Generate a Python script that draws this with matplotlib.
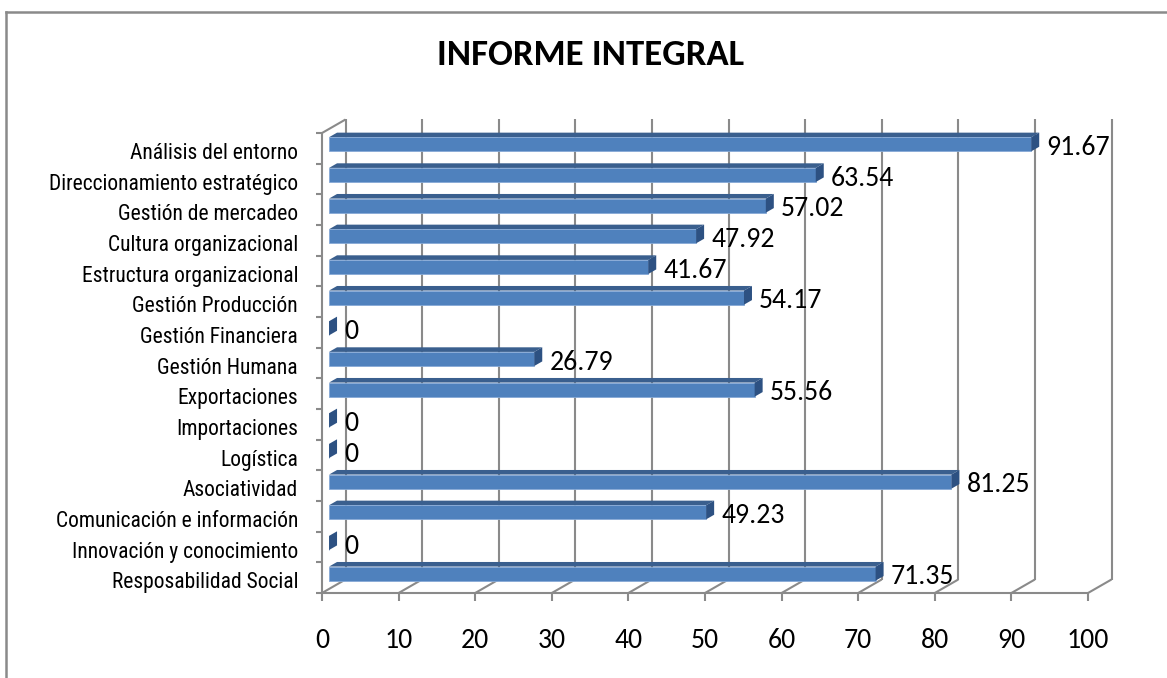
import matplotlib
matplotlib.use("Agg")
import matplotlib.pyplot as plt
from matplotlib.patches import Polygon
from matplotlib.lines import Line2D

categories = [
    "Análisis del entorno",
    "Direccionamiento estratégico",
    "Gestión de mercadeo",
    "Cultura organizacional",
    "Estructura organizacional",
    "Gestión Producción",
    "Gestión Financiera",
    "Gestión Humana",
    "Exportaciones",
    "Importaciones",
    "Logística",
    "Asociatividad",
    "Comunicación e información",
    "Innovación y conocimiento",
    "Resposabilidad Social",
]
values = [91.67, 63.54, 57.02, 47.92, 41.67, 54.17, 0, 26.79, 55.56, 0, 0, 81.25, 49.23, 0, 71.35]
x_ticks = list(range(0, 101, 10))
title = "INFORME INTEGRAL"

W, H = 1167, 678
GRID = "#8a8a8a"
FACE = "#4f81bd"
TOP = "#3a5f8e"
SIDE = "#2d5182"
NUM_FONT = ["Carlito", "Open Sans", "DejaVu Sans"]
CAT_FONT = ["Roboto Condensed", "Archivo Narrow", "Liberation Sans", "DejaVu Sans"]

fig = plt.figure(figsize=(W / 100, H / 100), dpi=100)
fig.patch.set_facecolor("white")

# outer chart border (only top and left visible in the crop)
fig.add_artist(Line2D([6 / W, 1.0], [1 - 12 / H, 1 - 12 / H], transform=fig.transFigure, color=GRID, lw=1.8))
fig.add_artist(Line2D([6 / W, 6 / W], [0, 1 - 12 / H], transform=fig.transFigure, color=GRID, lw=1.8))

fig.text(591 / W, 1 - 55 / H, title, ha="center", va="center", fontsize=26.5, fontweight="bold", family=NUM_FONT)

# front plane of the 3-D box
ax = fig.add_axes([322 / W, (H - 593) / H, 766 / W, 460 / H])
n = len(categories)
ax.set_xlim(0, 100)
ax.set_ylim(n - 0.5, -0.5)
ax.axis("off")

px_x = 766 / 100
px_y = 460 / n
DX = 23.5 / px_x      # depth offset in data units
DY = -13.5 / px_y
bottom, top = n - 0.5, -0.5

kw = dict(color=GRID, lw=1.5, clip_on=False, solid_capstyle="butt")
# back wall gridlines
for t in x_ticks:
    ax.plot([t + DX, t + DX], [bottom + DY, top + DY], zorder=1, **kw)
# floor
ax.plot([0, 100], [bottom, bottom], zorder=1, **kw)
for t in x_ticks:
    ax.plot([t, t + DX], [bottom, bottom + DY], zorder=1, **kw)
    ax.plot([t, t], [bottom, bottom + 8 / px_y], zorder=1, **kw)
    ax.text(t, bottom + 48 / px_y, str(t), ha="center", va="center", fontsize=20, family=NUM_FONT)
# left wall
ax.plot([0, 0], [bottom, top], zorder=1, **kw)
ax.plot([0, DX], [top, top + DY], zorder=1, **kw)
for k in range(n + 1):
    ax.plot([-6 / px_x, 0], [k - 0.5, k - 0.5], zorder=1, **kw)

# bars
f1, f2 = 0.3, 0.64
h = 0.46
ypos = list(range(n))
ax.barh([y + f1 * DY for y in ypos], values, height=h, left=f1 * DX, color=FACE,
        edgecolor="#86a9d6", linewidth=0.6, zorder=3)
for y, v, lab in zip(ypos, values, categories):
    y0 = y - h / 2 + f1 * DY
    y1 = y + h / 2 + f1 * DY
    top_face = [(f1 * DX, y0), (v + f1 * DX, y0), (v + f2 * DX, y0 + (f2 - f1) * DY), (f2 * DX, y0 + (f2 - f1) * DY)]
    side_face = [(v + f1 * DX, y0), (v + f2 * DX, y0 + (f2 - f1) * DY), (v + f2 * DX, y1 + (f2 - f1) * DY), (v + f1 * DX, y1)]
    ax.add_patch(Polygon(top_face, closed=True, facecolor=TOP, edgecolor="none", zorder=2, clip_on=False))
    ax.add_patch(Polygon(side_face, closed=True, facecolor=SIDE, edgecolor="none", zorder=4, clip_on=False))
    val = f"{v:g}" if v else "0"
    ax.text(v + f2 * DX + 7 / px_x, y + f1 * DY + 0.1, val, ha="left", va="center", fontsize=20,
            family=NUM_FONT, zorder=5, clip_on=False)
    ax.text(-24 / px_x, y + 0.17, lab, ha="right", va="center", fontsize=15.5, family=CAT_FONT, clip_on=False)

fig.savefig("out.png", dpi=100)
